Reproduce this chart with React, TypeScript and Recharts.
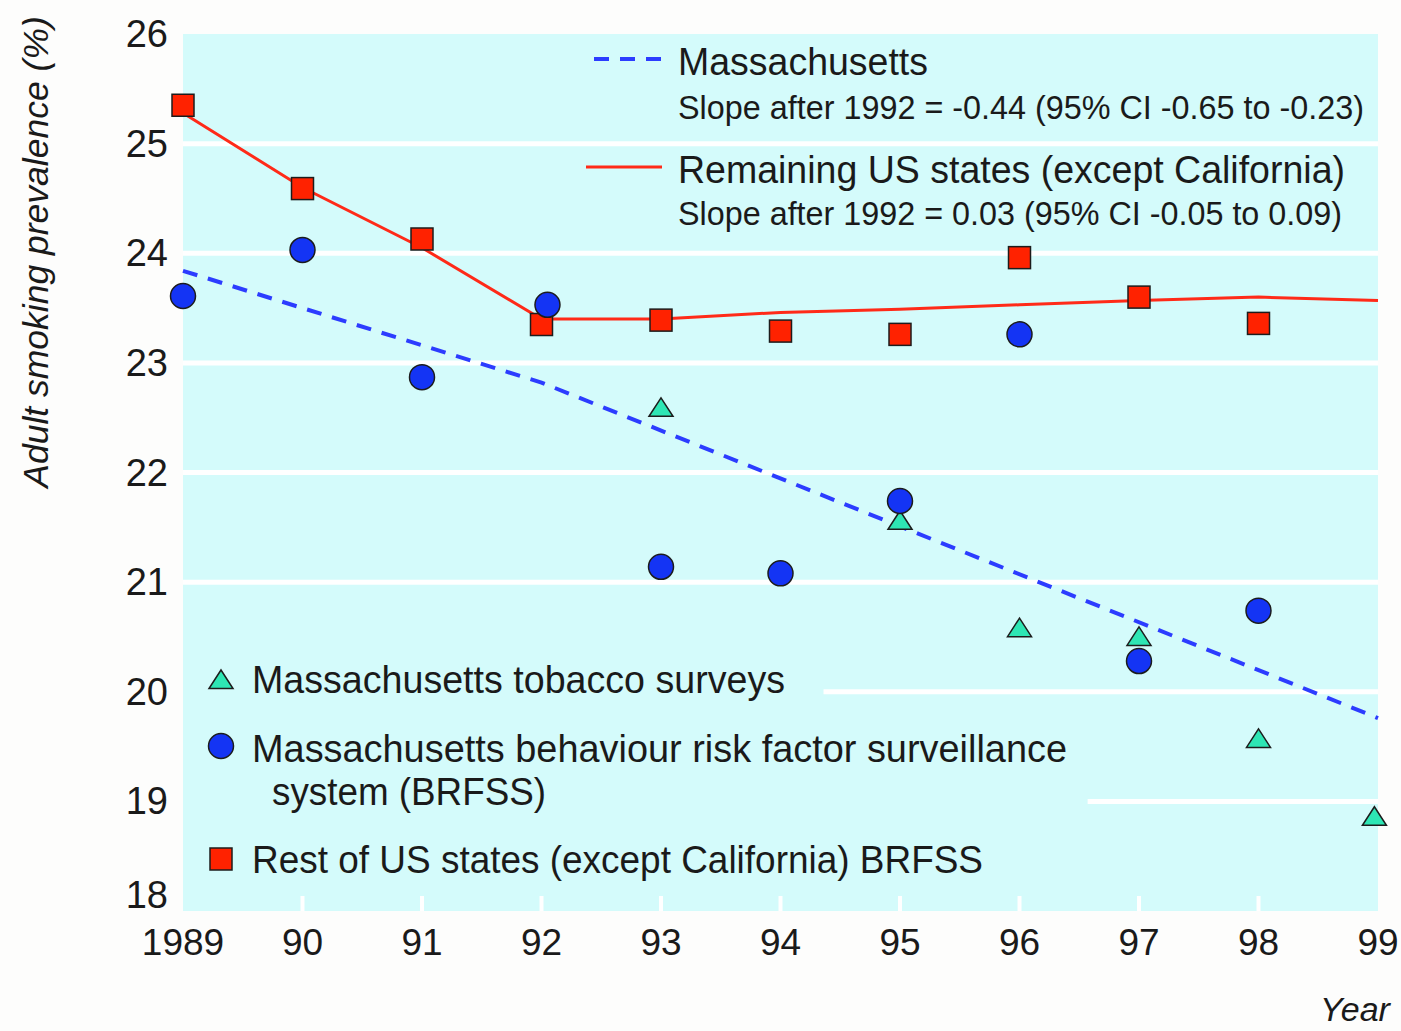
import React from "react";
import { ComposedChart, Line, Scatter, XAxis, YAxis, CartesianGrid } from "recharts";

// axis ticks
const YEAR_TICKS = [1989, 1990, 1991, 1992, 1993, 1994, 1995, 1996, 1997, 1998, 1999];
const YEAR_LABELS = ["1989", "90", "91", "92", "93", "94", "95", "96", "97", "98", "99"];
const PREV_TICKS = [18, 19, 20, 21, 22, 23, 24, 25, 26];

// white grid lines; the ones at 19 and 20 start behind the legend
const GRID_VALUES = [19, 20, 21, 22, 23, 24, 25];
const GRID_START_YEAR = [1996.57, 1994.36, 1989, 1989, 1989, 1989, 1989];

// Rest of US states (except California) BRFSS
const restYears = [1989, 1990, 1991, 1992, 1993, 1994, 1995, 1996, 1997, 1998];
const restValues = [25.35, 24.59, 24.13, 23.35, 23.39, 23.29, 23.26, 23.96, 23.6, 23.36];
const restFitYears = [1989, 1990, 1991, 1992, 1993, 1994, 1995, 1996, 1997, 1998, 1999];
const restFitValues = [25.28, 24.6, 24.05, 23.4, 23.4, 23.46, 23.49, 23.53, 23.57, 23.6, 23.57];

// Massachusetts BRFSS
const brfssYears = [1989, 1990, 1991, 1992.05, 1993, 1994, 1995, 1996, 1997, 1998];
const brfssValues = [23.61, 24.03, 22.87, 23.53, 21.14, 21.08, 21.74, 23.26, 20.28, 20.74];

// Massachusetts tobacco surveys
const surveyYears = [1993, 1995, 1996, 1997, 1998, 1998.97];
const surveyValues = [22.59, 21.56, 20.58, 20.5, 19.57, 18.86];

// Massachusetts fitted trend
const maFitYears = [1989, 1992, 1999];
const maFitValues = [23.84, 22.82, 19.76];

const toPoints = (xs: number[], ys: number[]) => xs.map((x, i) => ({ x, y: ys[i] }));

const FONT = "'Liberation Sans', Arial, Helvetica, sans-serif";
const CYAN = "#d4fbfb";
const RED = "#ff2200";
const RED_LINE = "#ff2a18";
const BLUE = "#1434f4";
const BLUE_LINE = "#2c3cff";
const MINT = "#2ee6b4";
const EDGE = "#1c1c1c";

const Square = ({ cx, cy }: any) => (
  <rect x={cx - 11} y={cy - 11} width={22} height={22} fill={RED} stroke={EDGE} strokeWidth={1.5} />
);
const Dot = ({ cx, cy }: any) => <circle cx={cx} cy={cy} r={12.5} fill={BLUE} stroke={EDGE} strokeWidth={1.5} />;
const Tri = ({ cx, cy }: any) => (
  <path d={`M${cx},${cy - 10} L${cx + 12},${cy + 8.5} L${cx - 12},${cy + 8.5} Z`} fill={MINT} stroke={EDGE} strokeWidth={1.5} />
);

const XTick = ({ x, y, payload, index }: any) => {
  const edge = payload.value === 1989 || payload.value === 1999;
  return (
    <g>
      {!edge && <line x1={x} x2={x} y1={y - 15} y2={y} stroke="#fff" strokeWidth={4} />}
      <text x={x} y={y + 44} textAnchor="middle" fontFamily={FONT} fontSize={37} fill="#1a1a1a">
        {YEAR_LABELS[index] ?? String(payload.value)}
      </text>
    </g>
  );
};

const YTick = ({ x, y, payload }: any) => (
  <text
    x={x - 15}
    y={y + 13 - (payload.value === 18 ? 16 : 0)}
    textAnchor="end"
    fontFamily={FONT}
    fontSize={38}
    fill="#1a1a1a"
  >
    {payload.value}
  </text>
);

const GridLine = (p: any) => {
  const start = GRID_START_YEAR[p.index] ?? 1989;
  const x1 = p.x1 + ((start - 1989) / 10) * (p.x2 - p.x1);
  return <line key={p.key} x1={x1} x2={p.x2} y1={p.y1} y2={p.y2} stroke="#ffffff" strokeWidth={5} />;
};

const txt = { fontFamily: FONT, fill: "#1a1a1a" } as const;

export default function App() {
  return (
    <div style={{ position: "absolute", left: 0, top: 0, width: 1401, height: 1031, background: "#fdfdfc" }}>
      <ComposedChart width={1401} height={1031} margin={{ top: 34, right: 23, bottom: 60, left: 0 }}>
        <CartesianGrid
          fill={CYAN}
          vertical={false}
          horizontal={GridLine}
          horizontalValues={GRID_VALUES}
          stroke="#fff"
        />
        <XAxis
          dataKey="x"
          type="number"
          domain={[1989, 1999]}
          ticks={YEAR_TICKS}
          axisLine={false}
          tickLine={false}
          tickSize={0}
          tickMargin={0}
          height={60}
          tick={<XTick />}
        />
        <YAxis
          type="number"
          domain={[18, 26]}
          ticks={PREV_TICKS}
          axisLine={false}
          tickLine={false}
          tickSize={0}
          tickMargin={0}
          width={183}
          tick={<YTick />}
        />
        <Line
          data={toPoints(restFitYears, restFitValues)}
          dataKey="y"
          type="linear"
          stroke={RED_LINE}
          strokeWidth={3}
          dot={false}
          activeDot={false}
          isAnimationActive={false}
        />
        <Line
          data={toPoints(maFitYears, maFitValues)}
          dataKey="y"
          type="linear"
          stroke={BLUE_LINE}
          strokeWidth={4}
          strokeDasharray="15 11"
          dot={false}
          activeDot={false}
          isAnimationActive={false}
        />
        <Scatter data={toPoints(restYears, restValues)} dataKey="y" shape={Square} isAnimationActive={false} />
        <Scatter data={toPoints(surveyYears, surveyValues)} dataKey="y" shape={Tri} isAnimationActive={false} />
        <Scatter data={toPoints(brfssYears, brfssValues)} dataKey="y" shape={Dot} isAnimationActive={false} />
      </ComposedChart>

      <svg width={1401} height={1031} style={{ position: "absolute", left: 0, top: 0, pointerEvents: "none" }}>
        <text transform="translate(48,252) rotate(-90)" textAnchor="middle" fontStyle="italic" fontSize={35.5} {...txt}>
          Adult smoking prevalence (%)
        </text>
        <text x={1320} y={1021} fontStyle="italic" fontSize={34} {...txt}>
          Year
        </text>

        {/* fitted-line legend */}
        <line x1={594} x2={662} y1={59} y2={59} stroke={BLUE_LINE} strokeWidth={4} strokeDasharray="15 11" />
        <text x={678} y={75} fontSize={38} textLength={250} lengthAdjust="spacingAndGlyphs" {...txt}>
          Massachusetts
        </text>
        <text x={678} y={119} fontSize={33} textLength={686} lengthAdjust="spacingAndGlyphs" {...txt}>
          Slope after 1992 = -0.44 (95% CI -0.65 to -0.23)
        </text>
        <line x1={586} x2={662} y1={167} y2={167} stroke={RED_LINE} strokeWidth={3} />
        <text x={678} y={183} fontSize={38} textLength={667} lengthAdjust="spacingAndGlyphs" {...txt}>
          Remaining US states (except California)
        </text>
        <text x={678} y={225} fontSize={33} textLength={664} lengthAdjust="spacingAndGlyphs" {...txt}>
          Slope after 1992 = 0.03 (95% CI -0.05 to 0.09)
        </text>

        {/* marker legend */}
        <Tri cx={221} cy={680} />
        <text x={252} y={693} fontSize={38} textLength={533} lengthAdjust="spacingAndGlyphs" {...txt}>
          Massachusetts tobacco surveys
        </text>
        <Dot cx={221} cy={746} />
        <text x={252} y={762} fontSize={38} textLength={815} lengthAdjust="spacingAndGlyphs" {...txt}>
          Massachusetts behaviour risk factor surveillance
        </text>
        <text x={272} y={805} fontSize={38} textLength={274} lengthAdjust="spacingAndGlyphs" {...txt}>
          system (BRFSS)
        </text>
        <Square cx={221} cy={859} />
        <text x={252} y={873} fontSize={38} textLength={731} lengthAdjust="spacingAndGlyphs" {...txt}>
          Rest of US states (except California) BRFSS
        </text>
      </svg>
    </div>
  );
}
